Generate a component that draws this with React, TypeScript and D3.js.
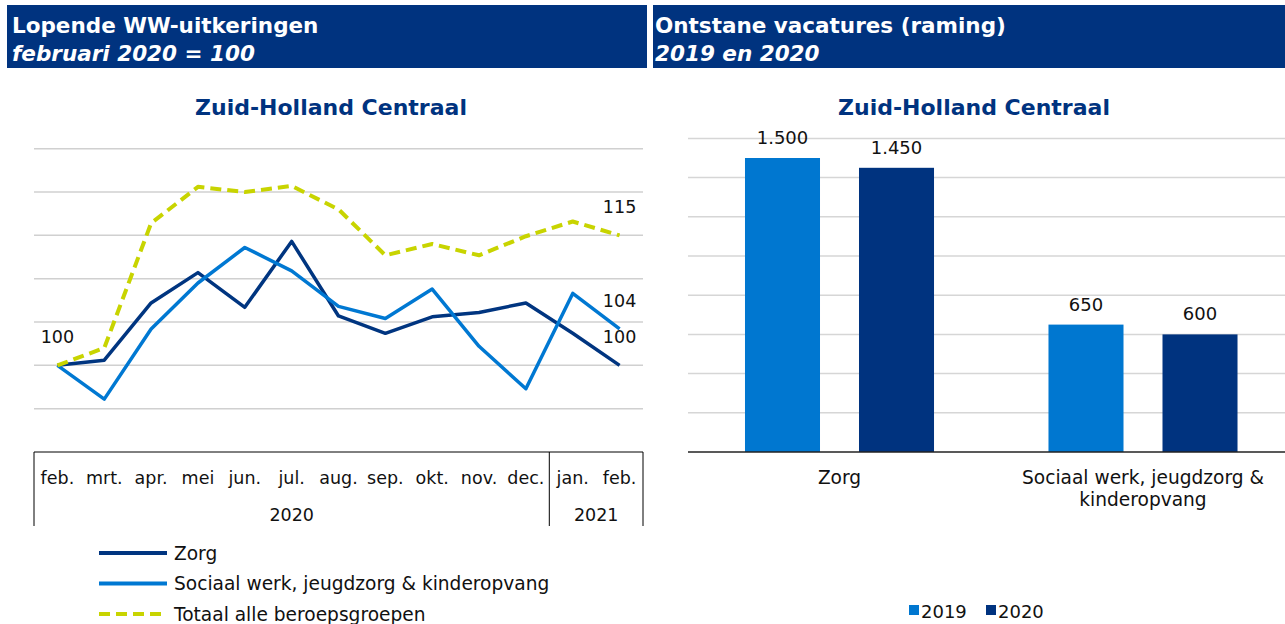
import React from "react";
import * as d3 from "d3";

const months = ["feb.", "mrt.", "apr.", "mei", "jun.", "jul.", "aug.", "sep.", "okt.", "nov.", "dec.", "jan.", "feb."];
const yearGroups = [
  { label: "2020", from: 0, to: 10 },
  { label: "2021", from: 11, to: 12 },
];
const zorg = [100, 100.6, 107.2, 110.7, 106.7, 114.3, 105.7, 103.7, 105.6, 106.1, 107.2, 103.7, 100];
const sociaal = [100, 96.1, 104.2, 109.5, 113.6, 110.9, 106.8, 105.4, 108.8, 102.2, 97.3, 108.3, 104.2];
const totaal = [100, 102, 116.4, 120.6, 120, 120.7, 118, 112.7, 114, 112.7, 114.9, 116.6, 115];
const lineSeries = [
  { name: "Zorg", values: zorg, color: "#003580", dash: "" },
  { name: "Sociaal werk, jeugdzorg & kinderopvang", values: sociaal, color: "#0078D2", dash: "" },
  { name: "Totaal alle beroepsgroepen", values: totaal, color: "#C8D400", dash: "11 6" },
];
const lineTicks = [95, 100, 105, 110, 115, 120, 125];

const barCategories = ["Zorg", "Sociaal werk, jeugdzorg & kinderopvang"];
const barCategoryLines = [["Zorg"], ["Sociaal werk, jeugdzorg &", "kinderopvang"]];
const years = ["2019", "2020"];
const vac2019 = [1500, 650];
const vac2020 = [1450, 600];
const barTicks = [200, 400, 600, 800, 1000, 1200, 1400, 1600];
const barColors = ["#0077D0", "#00337F"];

const FONT = "'DejaVu Sans', Verdana, sans-serif";
const NAVY = "#00337F";

const fmt = (v: number) => d3.format(",")(v).replace(/,/g, ".");

export default function App() {
  // Left line chart
  const x = d3.scalePoint<number>().domain(d3.range(months.length)).range([34, 643]).padding(0.5);
  const step = x.step();
  const y = d3.scaleLinear().domain([90, 125]).range([452, 148.7]);
  const line = (vals: number[]) =>
    d3.line<number>().x((_, i) => x(i) as number).y((d) => y(d))(vals) || "";
  const boundary = (i: number) => 34 + step * i;

  // Right bar chart
  const bx = d3.scaleBand<string>().domain(barCategories).range([687.75, 1294.75]).padding(0);
  const sub = d3.scaleBand<string>().domain(years).range([0, bx.bandwidth()]).paddingInner(0.342).paddingOuter(0.502);
  const by = d3.scaleLinear().domain([0, 1600]).range([452, 138.4]);
  const barVals = [vac2019, vac2020];

  const last = months.length - 1;

  return (
    <svg width={1285} height={624} style={{ position: "absolute", left: 0, top: 0, fontFamily: FONT }}>
      <rect x={0} y={0} width={1285} height={624} fill="#fff" />
      {/* Headers */}
      <rect x={7} y={5} width={640} height={63} fill={NAVY} />
      <rect x={653} y={5} width={632} height={63} fill={NAVY} />
      <text x={12} y={33} fill="#fff" fontSize={21.5} fontWeight="bold">Lopende WW-uitkeringen</text>
      <text x={12} y={61} fill="#fff" fontSize={21.5} fontWeight="bold" fontStyle="italic">februari 2020 = 100</text>
      <text x={655} y={33} fill="#fff" fontSize={21.5} fontWeight="bold">Ontstane vacatures (raming)</text>
      <text x={655} y={61} fill="#fff" fontSize={21.5} fontWeight="bold" fontStyle="italic">2019 en 2020</text>

      {/* Titles */}
      <text x={331} y={114.5} textAnchor="middle" fill={NAVY} fontSize={22} fontWeight="bold">Zuid-Holland Centraal</text>
      <text x={974} y={114.5} textAnchor="middle" fill={NAVY} fontSize={22} fontWeight="bold">Zuid-Holland Centraal</text>

      {/* Left gridlines */}
      {lineTicks.map((t) => (
        <line key={t} x1={34} x2={643} y1={y(t)} y2={y(t)} stroke="#D0D0D0" strokeWidth={1.5} />
      ))}
      {/* Axis box */}
      <line x1={34} x2={643} y1={452} y2={452} stroke="#000" strokeWidth={1} />
      {[0, 11, 13].map((i) => (
        <line key={i} x1={boundary(i)} x2={boundary(i)} y1={452} y2={526} stroke="#000" strokeWidth={1} />
      ))}
      {months.map((m, i) => (
        <text key={i} x={x(i)} y={484} textAnchor="middle" fontSize={17.5} fill="#111">{m}</text>
      ))}
      {yearGroups.map((g) => (
        <text key={g.label} x={(boundary(g.from) + boundary(g.to + 1)) / 2} y={521} textAnchor="middle" fontSize={17.5} fill="#111">{g.label}</text>
      ))}

      {/* Lines */}
      {lineSeries.map((s) => (
        <path key={s.name} d={line(s.values)} fill="none" stroke={s.color} strokeWidth={s.dash ? 4 : 3.5}
          strokeDasharray={s.dash || undefined} strokeLinejoin="round" />
      ))}
      {/* Data labels */}
      <text x={x(0)} y={y(zorg[0]) - 22} textAnchor="middle" fontSize={17.5} fill="#111">{Math.round(zorg[0])}</text>
      {lineSeries.map((s) => (
        <text key={s.name} x={x(last)} y={y(s.values[last]) - 22} textAnchor="middle" fontSize={17.5} fill="#111">
          {Math.round(s.values[last])}
        </text>
      ))}

      {/* Legend left */}
      {lineSeries.map((s, i) => (
        <g key={s.name} transform={`translate(0, ${553 + i * 30.5})`}>
          <line x1={99} x2={167} y1={0} y2={0} stroke={s.color} strokeWidth={4} strokeDasharray={s.dash || undefined} />
          <text x={174} y={6.5} fontSize={18.6} fill="#111">{s.name}</text>
        </g>
      ))}

      {/* Right chart gridlines */}
      {barTicks.map((t) => (
        <line key={t} x1={688} x2={1285} y1={by(t)} y2={by(t)} stroke="#D6D6D6" strokeWidth={1.5} />
      ))}
      {/* Bars */}
      {barCategories.map((c, ci) => (
        <g key={c} transform={`translate(${bx(c)},0)`}>
          {years.map((yr, yi) => {
            const v = barVals[yi][ci];
            const bxp = sub(yr) as number;
            return (
              <g key={yr}>
                <rect x={bxp} y={by(v)} width={sub.bandwidth()} height={452 - by(v)} fill={barColors[yi]} />
                <text x={bxp + sub.bandwidth() / 2} y={by(v) - 14} textAnchor="middle" fontSize={18} fill="#111">{fmt(v)}</text>
              </g>
            );
          })}
        </g>
      ))}
      <line x1={688} x2={1285} y1={452} y2={452} stroke="#222" strokeWidth={1.5} />
      {barCategories.map((c, ci) => (
        <text key={c} x={(bx(c) as number) + bx.bandwidth() / 2} y={484} textAnchor="middle" fontSize={18.6} fill="#111">
          {barCategoryLines[ci].map((l, li) => (
            <tspan key={li} x={(bx(c) as number) + bx.bandwidth() / 2} dy={li === 0 ? 0 : 22}>{l}</tspan>
          ))}
        </text>
      ))}
      {/* Right legend */}
      {years.map((yr, i) => (
        <g key={yr} transform={`translate(${909 + i * 77}, 0)`}>
          <rect x={0} y={605} width={10} height={10} fill={barColors[i]} />
          <text x={12} y={618} fontSize={18} fill="#111">{yr}</text>
        </g>
      ))}
    </svg>
  );
}
